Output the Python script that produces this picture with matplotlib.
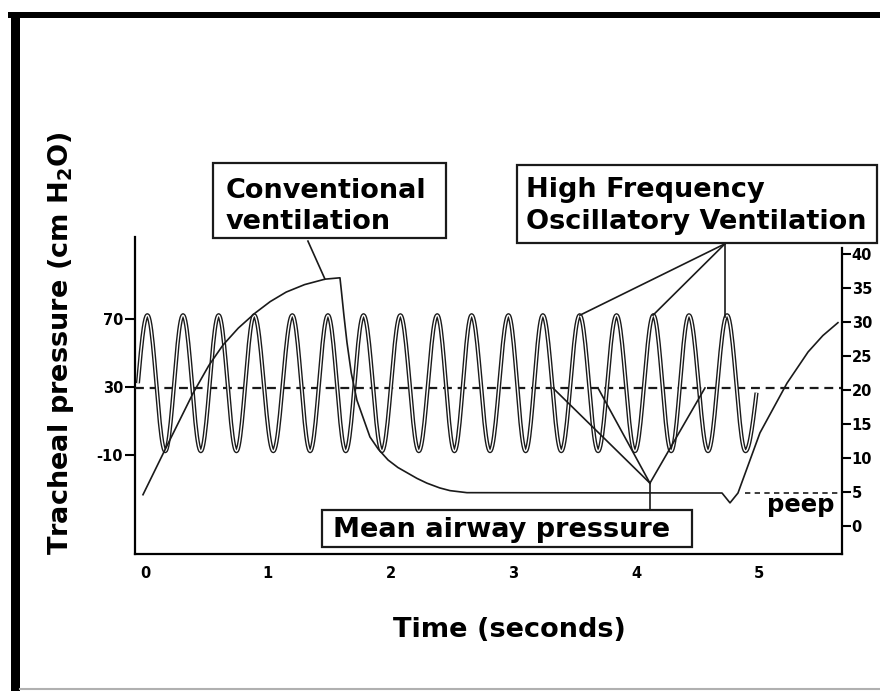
import numpy as np
import matplotlib
matplotlib.use("Agg")
import matplotlib.pyplot as plt
from matplotlib.patches import Rectangle
from matplotlib.lines import Line2D

plt.rcParams['font.family'] = ['DejaVu Sans']
plt.rcParams['font.weight'] = 'bold'
plt.rcParams['axes.unicode_minus'] = False
plt.rcParams['mathtext.fontset'] = 'custom'
plt.rcParams['mathtext.rm'] = 'DejaVu Sans:bold'
plt.rcParams['mathtext.default'] = 'rm'

# ---------------- data ----------------
time_ticks = [0, 1, 2, 3, 4, 5]
right_ticks = [0, 5, 10, 15, 20, 25, 30, 35, 40]
left_ticks = [-10, 30, 70]

# High frequency oscillation: turning points (seconds) and levels (right-axis cm H2O)
hfov_peak_t = [0.02, 0.31, 0.60, 0.89, 1.20, 1.49, 1.78, 2.08, 2.38, 2.66,
               2.96, 3.24, 3.54, 3.84, 4.14, 4.43, 4.74]
hfov_trough_t = [0.165, 0.455, 0.745, 1.045, 1.345, 1.635, 1.93, 2.23, 2.52,
                 2.81, 3.10, 3.39, 3.69, 3.99, 4.285, 4.585, 4.89]
hfov_peak_p = 31.0
hfov_trough_p = 11.0
hfov_start_t, hfov_start_p = -0.057, 21.0
hfov_end_t, hfov_end_p = 4.98, 19.6

# Conventional ventilation waveform
conv_t = [-0.016, 0.163, 0.391, 0.52, 0.635, 0.76, 0.896, 1.02, 1.15, 1.30,
          1.466, 1.588, 1.600, 1.620, 1.645, 1.68, 1.726, 1.832, 1.90, 1.98,
          2.06, 2.215, 2.296, 2.40, 2.484, 2.622, 4.699, 4.764, 4.829, 5.008,
          5.228, 5.40, 5.52, 5.643]
conv_p = [4.6, 11.2, 19.5, 23.6, 26.6, 29.1, 31.3, 33.0, 34.4, 35.5,
          36.3, 36.5, 34.5, 31.0, 27.0, 22.5, 18.5, 13.1, 11.3, 9.7,
          8.6, 7.0, 6.3, 5.6, 5.2, 4.9, 4.85, 3.4, 4.85, 13.7,
          21.0, 25.6, 28.0, 29.9]

mean_level = 20.3
peep_level = 4.85
peep_start_t = 4.886


def left_from_right(r):
    return 4 * np.asarray(r) - 52


def right_from_left(l):
    return (np.asarray(l) + 52) / 4


def smooth_wave(tp, pp):
    """Render a smooth oscillation through its turning points."""
    ts, ps = [], []
    n = len(tp)
    for i in range(n - 1):
        t0, t1, p0, p1 = tp[i], tp[i + 1], pp[i], pp[i + 1]
        u = np.linspace(0, 1, 24)
        if i == 0:
            s = np.sin(np.pi / 2 * u)
        elif i == n - 2:
            s = 1 - np.cos(np.pi / 2 * u)
        else:
            s = (1 - np.cos(np.pi * u)) / 2
        ts.append(t0 + (t1 - t0) * u)
        ps.append(p0 + (p1 - p0) * s)
    return np.concatenate(ts), np.concatenate(ps)


W, H = 880, 691
fig = plt.figure(figsize=(W / 100, H / 100), dpi=100)
fig.patch.set_facecolor('white')


def fx(x):
    return x / W


def fy(y):
    return 1 - y / H


ax = fig.add_axes([fx(135), fy(554), (842 - 135) / W, (554 - 237) / H])
ax.set_xlim(-0.081, 5.676)
ax.set_ylim(-4.12, 42.5)
ax.patch.set_alpha(0)

# oscillation (hollow stroke)
tp = [hfov_start_t]
pp = [hfov_start_p]
for pk, tr in zip(hfov_peak_t, hfov_trough_t):
    tp += [pk, tr]
    pp += [hfov_peak_p, hfov_trough_p]
tp.append(hfov_end_t)
pp.append(hfov_end_p)
wt, wp = smooth_wave(tp, pp)
ax.plot(wt, wp, color='#1a1a1a', lw=3.0, solid_capstyle='butt', zorder=2)
ax.plot(wt, wp, color='white', lw=1.0, solid_capstyle='butt', zorder=2.1)

# mean pressure dashed line
ax.axhline(mean_level, color='#1a1a1a', lw=1.6, ls=(0, (4, 2.6)), zorder=1.5)
# peep dashed line
ax.plot([peep_start_t, 5.676], [peep_level, peep_level], color='#1a1a1a',
        lw=1.2, ls=(0, (3.2, 2.6)), zorder=1.5)

# conventional ventilation
ax.plot(conv_t, conv_p, color='#1a1a1a', lw=1.2, zorder=3, solid_joinstyle='round')

# annotation leader lines
lk = dict(color='#1a1a1a', lw=1.2, clip_on=False, zorder=4)
ax.plot([1.327, 1.466], [41.9, 36.3], **lk)
for (t1, p1) in [(3.542, 31.0), (4.137, 31.0), (4.723, 30.7)]:
    ax.plot([4.723, t1], [41.5, p1], **lk)
ax.plot([4.112, 4.112], [2.35, 6.3], **lk)
for t1 in [3.322, 3.689, 4.560]:
    ax.plot([4.112, t1], [6.3, 20.3], **lk)

# axes styling
for s in ['top', 'left']:
    ax.spines[s].set_visible(False)
ax.spines['bottom'].set_linewidth(1.6)
ax.spines['right'].set_linewidth(1.6)
ax.spines['right'].set_bounds(-4.12, 40.9)
ax.set_xticks(time_ticks)
ax.set_xticklabels([str(v) for v in time_ticks])
ax.tick_params(axis='x', length=0, pad=9, labelsize=10.5)
ax.yaxis.tick_right()
ax.set_yticks(right_ticks)
ax.set_yticklabels([str(v) for v in right_ticks])
ax.tick_params(axis='y', length=6.5, width=1.5, pad=0.5, labelsize=10.5,
               direction='out')

sec = ax.secondary_yaxis('left', functions=(left_from_right, right_from_left))
sec.set_yticks(left_ticks)
sec.set_yticklabels([str(v) for v in left_ticks])
sec.tick_params(length=7, width=1.5, pad=1.5, labelsize=10.5)
sec.spines['left'].set_linewidth(1.6)

# axis titles
fig.text(fx(61), fy(343), 'Tracheal pressure (cm H$_2$O)', rotation=90,
         ha='center', va='center', fontsize=19.5, fontweight='bold')
fig.text(fx(393), fy(637), 'Time (seconds)', ha='left', va='baseline',
         fontsize=19.5, fontweight='bold')

# boxes
def box(x0, y0, x1, y1):
    fig.add_artist(Rectangle((fx(x0), fy(y1)), (x1 - x0) / W, (y1 - y0) / H,
                             transform=fig.transFigure, facecolor='white',
                             edgecolor='#1a1a1a', lw=1.6, zorder=5))

box(213, 163, 446, 238)
fig.text(fx(226), fy(198), 'Conventional', fontsize=19.5, va='baseline', zorder=6)
fig.text(fx(226), fy(229), 'ventilation', fontsize=19.5, va='baseline', zorder=6)

box(517, 165, 877, 243)
fig.text(fx(526), fy(197), 'High Frequency', fontsize=19.5, va='baseline', zorder=6)
fig.text(fx(526), fy(229), 'Oscillatory Ventilation', fontsize=19.5, va='baseline', zorder=6)

box(322, 510, 692, 547)
fig.text(fx(333), fy(537), 'Mean airway pressure', fontsize=19.5, va='baseline', zorder=6)

fig.text(fx(767), fy(512), 'peep', fontsize=17.5, va='baseline')

# page border (thick black at top and left, light grey at bottom)
fig.add_artist(Rectangle((fx(8), fy(18)), (W - 8) / W, 6 / H,
                         transform=fig.transFigure, color='black', lw=0))
fig.add_artist(Rectangle((fx(11), 0), 9 / W, fy(12),
                         transform=fig.transFigure, color='black', lw=0))
fig.add_artist(Line2D([fx(20), 1], [fy(689), fy(689)], transform=fig.transFigure,
                      color='#b0b0b0', lw=1.5))

fig.savefig('out.png', dpi=100, facecolor='white')
